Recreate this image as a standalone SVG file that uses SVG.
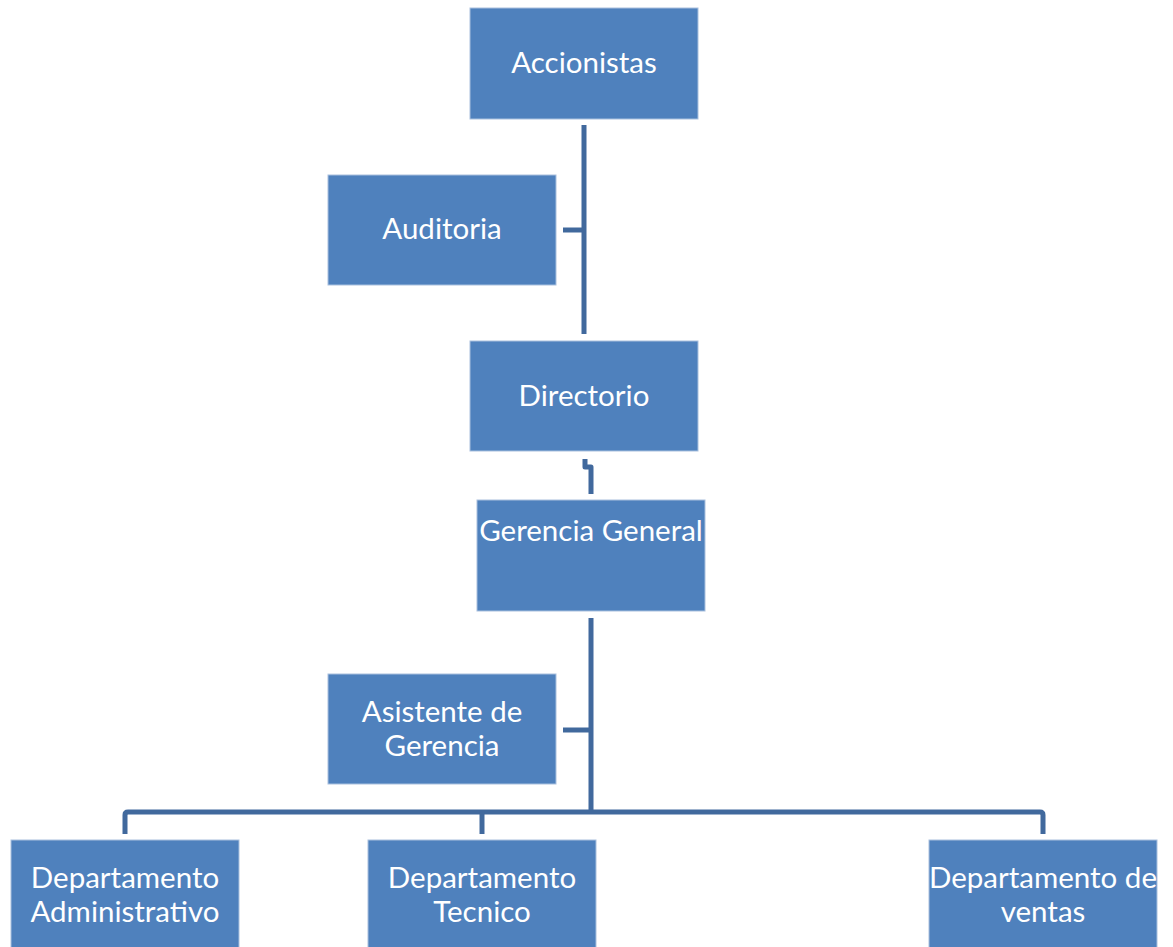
<svg xmlns="http://www.w3.org/2000/svg" width="1173" height="947" viewBox="0 0 1173 947">
<style>
.box{fill:#4F81BD;stroke:#A9C0DE;stroke-width:1}
.t{font-family:Lato,"Open Sans",sans-serif;font-size:29.5px;fill:#FFFFFF;text-anchor:middle}
.c{fill:none;stroke:#41699D;stroke-width:5;stroke-linejoin:round}
</style>
<rect width="1173" height="947" fill="#FFFFFF"/>
<g id="connectors">
<path class="c" d="M584,125 V334"/>
<path class="c" d="M563,230 H584"/>
<path class="c" d="M585,459 V467 H591 V494"/>
<path class="c" d="M591,618 V812"/>
<path class="c" d="M563,730 H591"/>
<path class="c" d="M125,834 V815 Q125,812 128,812 H1040 Q1043,812 1043,815 V834"/>
<path class="c" d="M482,834 V812"/>
</g>
<g id="accionistas"><rect class="box" x="470" y="8" width="228" height="111"/><text class="t" x="584" y="73">Accionistas</text></g>
<g id="auditoria"><rect class="box" x="328" y="175" width="228" height="110"/><text class="t" x="442" y="239">Auditoria</text></g>
<g id="directorio"><rect class="box" x="470" y="341" width="228" height="110"/><text class="t" x="584" y="406">Directorio</text></g>
<g id="gerencia"><rect class="box" x="477" y="500" width="228" height="111"/><text class="t" x="591" y="541">Gerencia General</text></g>
<g id="asistente"><rect class="box" x="328" y="674" width="228" height="110"/><text class="t" x="442" y="722">Asistente de</text><text class="t" x="442" y="756">Gerencia</text></g>
<g id="dep-admin"><rect class="box" x="11" y="840" width="228" height="112"/><text class="t" x="125" y="888">Departamento</text><text class="t" x="125" y="922">Administrativo</text></g>
<g id="dep-tecnico"><rect class="box" x="368" y="840" width="228" height="112"/><text class="t" x="482" y="888">Departamento</text><text class="t" x="482" y="922">Tecnico</text></g>
<g id="dep-ventas"><rect class="box" x="929" y="840" width="228" height="112"/><text class="t" x="1043" y="888">Departamento de</text><text class="t" x="1043" y="922">ventas</text></g>
</svg>
